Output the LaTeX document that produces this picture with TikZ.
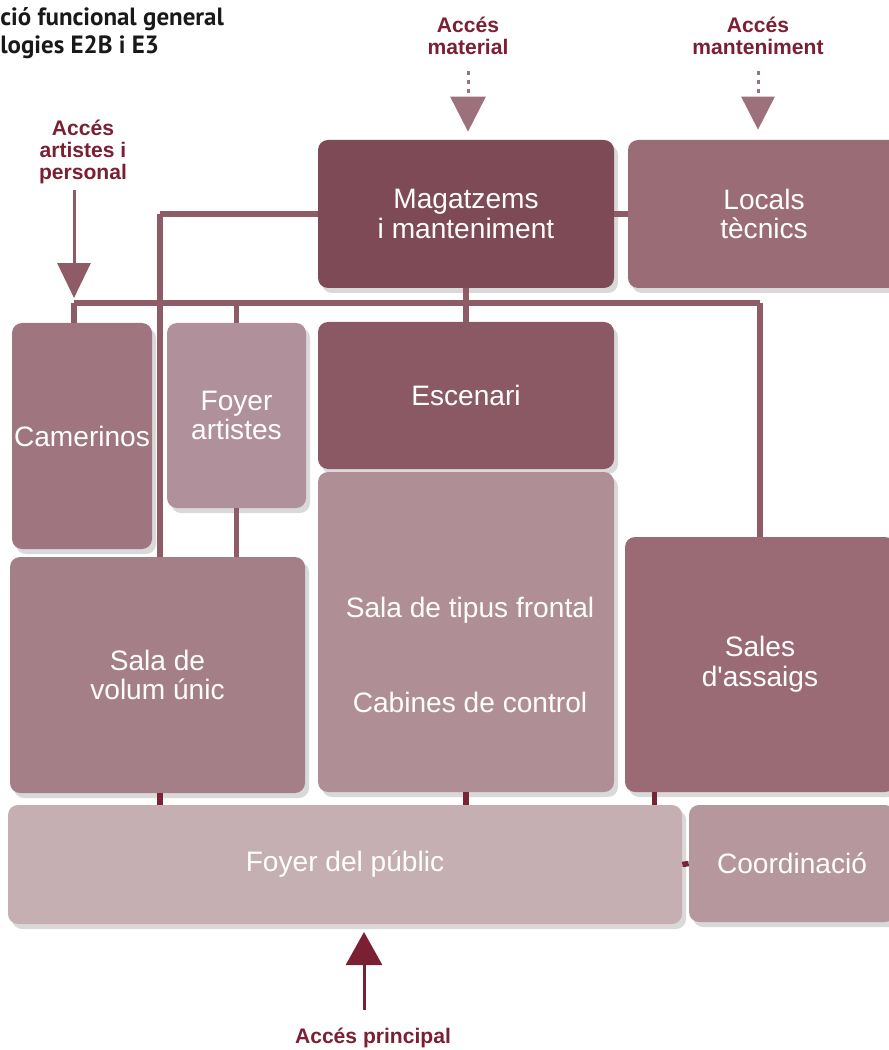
\documentclass[tikz,border=0pt]{standalone}
\usepackage{fontspec}
\setmainfont{Liberation Sans}
\newfontfamily\titlefont{PT Sans}
\usetikzlibrary{arrows.meta,shadows,calc}
\definecolor{cMag}{HTML}{7E4A55}
\definecolor{cLoc}{HTML}{9A6C76}
\definecolor{cCam}{HTML}{9F7580}
\definecolor{cFa}{HTML}{B0909A}
\definecolor{cEsc}{HTML}{8A5964}
\definecolor{cSal}{HTML}{B08E96}
\definecolor{cVol}{HTML}{A57F88}
\definecolor{cAss}{HTML}{9A6B75}
\definecolor{cFp}{HTML}{C5AFB3}
\definecolor{cCoo}{HTML}{B5979D}
\definecolor{cLink}{HTML}{8E5B66}
\definecolor{cStub}{HTML}{7A2537}
\definecolor{cAcc}{HTML}{7B1F33}
\definecolor{cLight}{HTML}{9C717B}
\tikzset{
	room/.style n args={3}{fill=#3,rounded corners=0.2cm,minimum width=#1*0.02cm,minimum height=#2*0.02cm,
		inner sep=0pt,text=white,align=center,font=\fontsize{16}{17}\selectfont,
		drop shadow={opacity=0.3,shadow xshift=0.08cm,shadow yshift=-0.1cm}},
	lbl/.style={text=white,font=\fontsize{16}{17}\selectfont},
	link/.style={draw=cLink,line width=0.11cm},
	stub/.style={draw=cStub,line width=0.11cm},
	acces/.style={text=cAcc,align=center,font=\bfseries\fontsize{12}{12.5}\selectfont},
}
\begin{document}
\begin{tikzpicture}[x=0.02cm,y=-0.02cm]
	\useasboundingbox (0,0) rectangle (888,1050);
	%==Títol
	\node[anchor=north west,inner sep=0pt,align=left,text=black!90,font=\titlefont\bfseries\fontsize{14.2}{16}\selectfont] (tit) at (0,7) {ció funcional general\\logies E2B i E3};
	%==Caixes
	\node[room={296}{148}{cMag}] (mag) at (466,214) {Magatzems\\i manteniment};
	\node[room={272}{148}{cLoc}] (loc) at (764,214) {Locals\\tècnics};
	\node[room={140}{226}{cCam}] (cam) at (82,436) {Camerinos};
	\node[room={139}{185}{cFa}] (fa) at (236.5,415.5) {Foyer\\artistes};
	\node[room={296}{147}{cEsc}] (esc) at (466,395.5) {Escenari};
	\node[room={296}{320}{cSal}] (sal) at (466,632) {};
	\node[lbl] (sft) at (470,610) {Sala de tipus frontal};
	\node[lbl] (cab) at (470,702) {Cabines de control};
	\node[room={295}{236}{cVol}] (vol) at (157.5,675) {Sala de\\volum únic};
	\node[room={270}{255}{cAss}] (ass) at (760,664.5) {Sales\\d\textquotesingle assaigs};
	\node[room={674}{119}{cFp}] (fp) at (345,864.5) {Foyer del públic};
	\node[room={206}{117}{cCoo}] (coo) at (792,863.5) {Coordinació};
	%==Connexions
	\coordinate (t1) at (160,214);
	\coordinate (b1) at (74,303);
	\coordinate (b2) at (760,303);
	\draw[link] (t1)--(mag.west) (t1)--(t1 |- vol.north);
	\draw[link] (mag.east)--(loc.west);
	\draw[link] (mag.south)--(esc.north);
	\draw[link] (b1)--(b2);
	\draw[link] (b1)--(b1 |- cam.north) (fa.north |- b1)--(fa.north) (b2)--(b2 |- ass.north);
	\draw[link] (fa.south)--(fa.south |- vol.north);
	\draw[stub] (t1 |- vol.south)--(t1 |- fp.north) (sal.south)--(sal.south |- fp.north);
	\draw[stub] ($(ass.south west)+(30,0)$)--($(ass.south west)+(30,13)$);
	\draw[stub] (fp.east)--(coo.west);
	%==Accessos
	\node[acces] (art) at (83,152) {Accés\\artistes i\\personal};
	\node[acces] (mat) at (468,36) {Accés\\material};
	\node[acces] (man) at (758,36) {Accés\\manteniment};
	\node[acces] (pri) at (373,1038) {Accés principal};
	\coordinate (pin) at (364,932);
	\draw[draw=cLink,line width=0.06cm,-{Triangle[width=0.66cm,length=0.7cm]},shorten >=0.1cm,color=cLink] (art.south -| b1)--(b1);
	\draw[cLight,line width=0.06cm,dash pattern=on 0.08cm off 0.1cm,-{Triangle[width=0.7cm,length=0.7cm]},shorten >=0.16cm,shorten <=0.2cm] (mat.south)--(mat.south |- mag.north);
	\draw[cLight,line width=0.06cm,dash pattern=on 0.08cm off 0.1cm,-{Triangle[width=0.66cm,length=0.66cm]},shorten >=0.2cm,shorten <=0.2cm] (man.south)--(man.south |- loc.north);
	\draw[cAcc,line width=0.06cm,-{Triangle[width=0.72cm,length=0.66cm]}] (pin |- pri.north)++(0,-12)--(pin);
\end{tikzpicture}
\end{document}
